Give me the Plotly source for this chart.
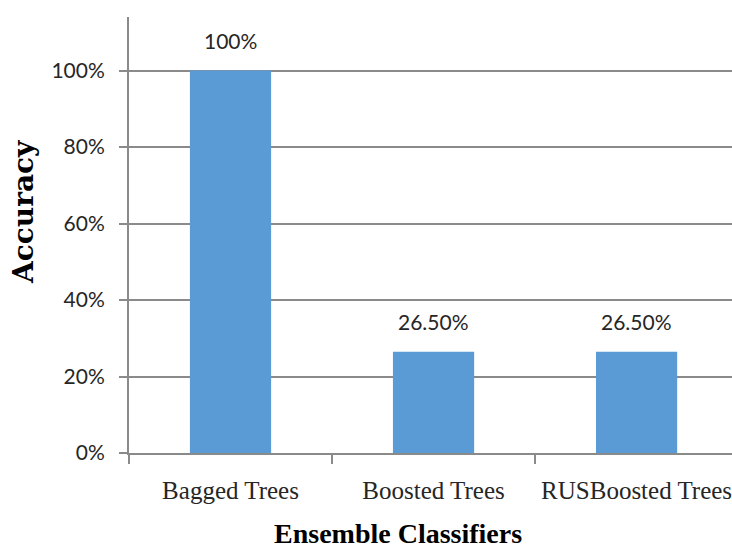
import plotly.graph_objects as go

# Classifier accuracy values
classifiers = ["Bagged Trees", "Boosted Trees", "RUSBoosted Trees"]
accuracy = [1.00, 0.265, 0.265]
y_ticks = [0, 0.2, 0.4, 0.6, 0.8, 1.0]
y_tick_text = ["0%", "20%", "40%", "60%", "80%", "100%"]


def pct_label(v):
    return f"{v:.0%}" if v == 1 else f"{v:.2%}"


labels = [pct_label(v) for v in accuracy]

grey = "#8a8a8a"
ink = "#262626"

# plot area in pixels
W, H = 732, 550
L, R, T, B = 129, 0, 17, 97
pw, ph = W - L - R, H - T - B

fig = go.Figure(
    go.Bar(
        x=classifiers,
        y=accuracy,
        marker=dict(color="#5B9BD5", line=dict(width=0)),
        hoverinfo="x+y",
    )
)

# value labels above each bar
for c, v, t in zip(classifiers, accuracy, labels):
    fig.add_annotation(
        x=c, y=v, xref="x", yref="y", text=t, showarrow=False,
        yanchor="bottom", yshift=16,
        font=dict(family="Lato", size=21, color=ink),
    )

# axis titles
fig.add_annotation(
    x=(398 - L) / pw, y=(H - B - 533) / ph, xref="paper", yref="paper",
    text="<b>Ensemble Classifiers</b>", showarrow=False,
    xanchor="center", yanchor="middle",
    font=dict(family="Liberation Serif", size=28, color="black"),
)
fig.add_annotation(
    x=(23 - L) / pw, y=(H - B - 212) / ph, xref="paper", yref="paper",
    text="<b>Accuracy</b>", showarrow=False, textangle=-90,
    xanchor="center", yanchor="middle",
    font=dict(family="DejaVu Serif", size=28, color="black"),
)

fig.update_layout(
    width=W,
    height=H,
    margin=dict(l=L, r=R, t=T, b=B),
    paper_bgcolor="white",
    plot_bgcolor="white",
    bargap=0.6,
    showlegend=False,
)

fig.update_xaxes(
    range=[-0.5, 2.47],
    showline=True,
    linecolor=grey,
    linewidth=2,
    ticks="outside",
    tickson="boundaries",
    ticklen=9,
    tickwidth=2,
    tickcolor=grey,
    showgrid=False,
    ticklabelstandoff=14,
    tickfont=dict(family="Liberation Serif", size=25, color=ink),
)

fig.update_yaxes(
    range=[0, 1.14],
    tickvals=y_ticks,
    ticktext=y_tick_text,
    showline=True,
    linecolor=grey,
    linewidth=2,
    ticks="outside",
    ticklen=8,
    tickwidth=2,
    tickcolor=grey,
    showgrid=True,
    gridcolor=grey,
    gridwidth=2,
    zeroline=False,
    ticklabelstandoff=10,
    tickfont=dict(family="Lato", size=21, color=ink),
)

fig.write_html("out.html")
